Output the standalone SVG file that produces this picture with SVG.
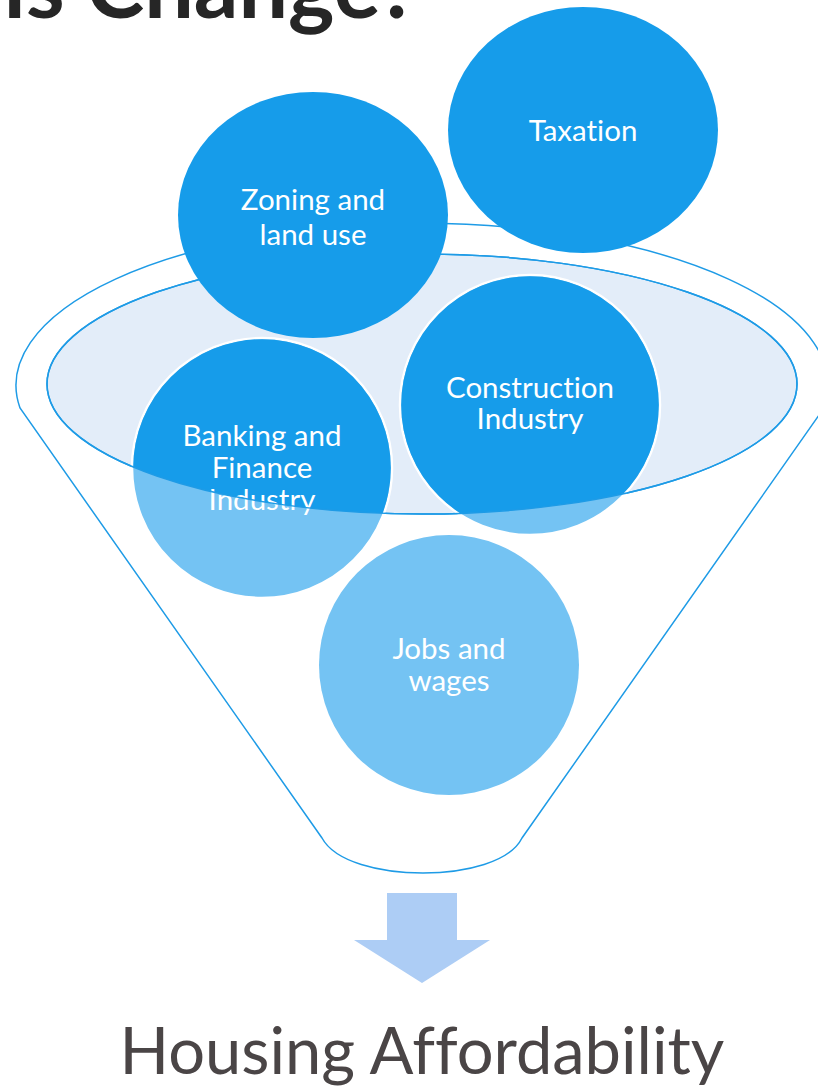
<svg xmlns="http://www.w3.org/2000/svg" width="818" height="1086" viewBox="0 0 818 1086">
<defs>
<style>
text{font-variant-ligatures:none}
.lbl{font-family:Lato,"Open Sans",sans-serif;font-size:29.5px;fill:#fff;text-anchor:middle}
.dark{fill:#169CEA}
.light{fill:#74C3F3}
.edge{fill:none;stroke:#1E9BE6;stroke-width:1.5}
</style>
<clipPath id="innerClip"><ellipse cx="422" cy="384" rx="375" ry="130"/></clipPath>
</defs>
<rect width="818" height="1086" fill="#fff"/>
<text x="419" y="18" font-family="Lato,sans-serif" font-weight="700" font-size="88" fill="#262626" text-anchor="end">is Change?</text>
<g id="funnel">
<path class="edge" fill="#fff" d="M 20 408 A 406 162 0 1 1 824 408 L 522 838 C 510 862 466 873 423 873 C 380 873 335 862 322 838 Z"/>
<ellipse cx="422" cy="384" rx="375" ry="130" fill="#E3EDF9" stroke="#1E9BE6" stroke-width="1.5"/>
</g>
<g id="jobs">
<circle class="light" cx="449" cy="665" r="130"/>
<text class="lbl" x="449" y="659">Jobs and</text>
<text class="lbl" x="449" y="691">wages</text>
</g>
<g id="banking">
<circle class="light" cx="262" cy="468" r="130" stroke="#fff" stroke-width="2.5"/>
<circle class="dark" cx="262" cy="468" r="128.8" clip-path="url(#innerClip)"/>
<text class="lbl" x="262" y="446">Banking and</text>
<text class="lbl" x="262" y="478">Finance</text>
<text class="lbl" x="262" y="510">Industry</text>
</g>
<g id="construction">
<circle class="light" cx="530" cy="405" r="130" stroke="#fff" stroke-width="2.5"/>
<circle class="dark" cx="530" cy="405" r="128.8" clip-path="url(#innerClip)"/>
<text class="lbl" x="530" y="398">Construction</text>
<text class="lbl" x="530" y="429">Industry</text>
</g>
<g id="connectors">
<ellipse class="edge" cx="422" cy="384" rx="375" ry="130"/>
</g>
<g id="zoning">
<ellipse class="dark" cx="313" cy="215" rx="135" ry="123"/>
<text class="lbl" x="313" y="210">Zoning and</text>
<text class="lbl" x="313" y="245">land use</text>
</g>
<g id="taxation">
<ellipse class="dark" cx="583" cy="130" rx="135" ry="123"/>
<text class="lbl" x="583" y="141" font-size="30">Taxation</text>
</g>
<g id="arrow">
<polygon fill="#ADCDF5" points="387,893 457,893 457,940 490,940 422,983 354,940 387,940"/>
</g>
<text x="422" y="1074" font-family="Lato,sans-serif" font-size="65" fill="#4A4546" text-anchor="middle">Housing Affordability</text>
</svg>
